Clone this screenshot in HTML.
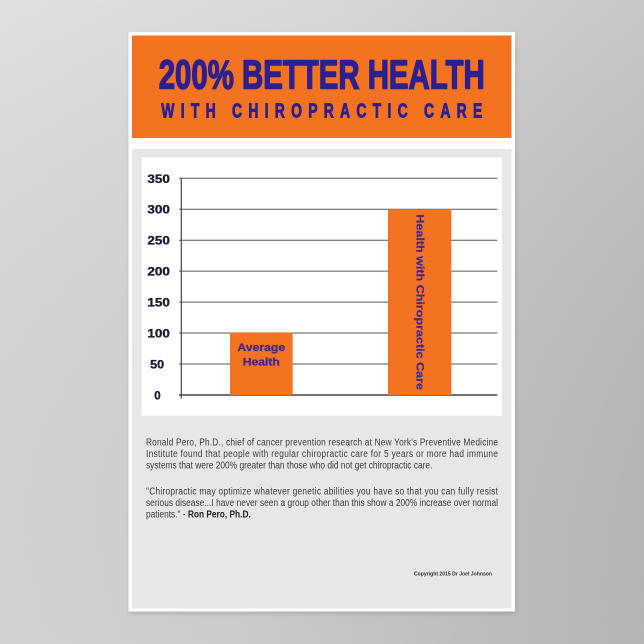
<!DOCTYPE html>
<html>
<head>
<meta charset="utf-8">
<style>
  html,body{margin:0;padding:0;width:644px;height:644px;overflow:hidden;}
  body{background:linear-gradient(100deg,#dcdcdc 0%,#d2d2d2 45%,#c3c2c1 80%,#bcbab9 100%);}
  svg{display:block;}
</style>
</head>
<body>
<svg width="644" height="644" viewBox="0 0 644 644" xmlns="http://www.w3.org/2000/svg">
  <defs>
    <linearGradient id="bgv" x1="0" y1="0" x2="0" y2="1">
      <stop offset="0" stop-color="#ffffff" stop-opacity="0.12"/>
      <stop offset="1" stop-color="#000000" stop-opacity="0.03"/>
    </linearGradient>
    <filter id="sh" x="-10%" y="-10%" width="120%" height="120%">
      <feGaussianBlur stdDeviation="2"/>
    </filter>
  </defs>
  <rect x="0" y="0" width="644" height="644" fill="url(#bgv)"/>

  <!-- poster shadow -->
  <rect x="129" y="34" width="387" height="580" fill="#000" opacity="0.12" filter="url(#sh)"/>
  <!-- white frame -->
  <rect x="128.5" y="32" width="386.5" height="579.5" fill="#ffffff"/>
  <!-- orange header -->
  <rect x="132" y="35.5" width="379.5" height="102.5" fill="#f47321"/>
  <!-- gray panel -->
  <rect x="132" y="149" width="379.5" height="459.5" fill="#e6e7e9"/>
  <!-- chart white box -->
  <rect x="141.7" y="157.3" width="360.3" height="258.3" fill="#ffffff"/>

  <!-- title -->
  <text x="158.7" y="88.7" textLength="326" lengthAdjust="spacingAndGlyphs"
        font-family="'Liberation Sans Narrow','Liberation Sans',sans-serif" font-weight="bold"
        font-size="40.5" fill="#2e1f8f" stroke="#2e1f8f" stroke-width="1.5" stroke-linejoin="round">200% BETTER HEALTH</text>
  <text transform="translate(161.3,117.3) scale(0.68,1)" x="0" y="0" textLength="472" lengthAdjust="spacing"
        font-family="'Liberation Sans Narrow','Liberation Sans',sans-serif" font-weight="bold"
        font-size="20.5" fill="#2e1f8f" stroke="#2e1f8f" stroke-width="0.9">WITH CHIROPRACTIC CARE</text>

  <!-- gridlines -->
  <g stroke="#5a5a5a" stroke-width="1">
    <line x1="179" y1="178.3" x2="497.3" y2="178.3"/>
    <line x1="179" y1="209.25" x2="497.3" y2="209.25"/>
    <line x1="179" y1="240.2" x2="497.3" y2="240.2"/>
    <line x1="179" y1="271.15" x2="497.3" y2="271.15"/>
    <line x1="179" y1="302.1" x2="497.3" y2="302.1"/>
    <line x1="179" y1="333.05" x2="497.3" y2="333.05"/>
    <line x1="179" y1="364" x2="497.3" y2="364"/>
  </g>
  <line x1="179" y1="395" x2="497.3" y2="395" stroke="#444" stroke-width="1.4"/>
  <line x1="181.3" y1="178.3" x2="181.3" y2="398.5" stroke="#444" stroke-width="1.2"/>

  <!-- bars -->
  <rect x="230" y="332.7" width="62.7" height="62.3" fill="#f47321"/>
  <rect x="388" y="209.3" width="63.3" height="185.7" fill="#f47321"/>

  <!-- tick labels -->
  <g font-family="'Liberation Sans',sans-serif" font-weight="bold" font-size="11.5" fill="#1c1c38" text-anchor="middle" stroke="#1c1c38" stroke-width="0.35">
    <text x="158.6" y="182.8" textLength="22.5" lengthAdjust="spacingAndGlyphs">350</text>
    <text x="158.6" y="213.7" textLength="22.5" lengthAdjust="spacingAndGlyphs">300</text>
    <text x="158.6" y="244.7" textLength="22.5" lengthAdjust="spacingAndGlyphs">250</text>
    <text x="158.6" y="275.6" textLength="22.5" lengthAdjust="spacingAndGlyphs">200</text>
    <text x="158.6" y="306.6" textLength="22.5" lengthAdjust="spacingAndGlyphs">150</text>
    <text x="158.6" y="337.5" textLength="22.5" lengthAdjust="spacingAndGlyphs">100</text>
    <text x="157.2" y="368.5" textLength="14" lengthAdjust="spacingAndGlyphs">50</text>
    <text x="157.5" y="399.5">0</text>
  </g>

  <!-- bar labels -->
  <g font-family="'Liberation Sans',sans-serif" font-weight="bold" font-size="11" fill="#3f2a8a">
    <text x="261.3" y="351" text-anchor="middle" textLength="47.7" lengthAdjust="spacingAndGlyphs" stroke="#3f2a8a" stroke-width="0.3">Average</text>
    <text x="261.3" y="365.7" text-anchor="middle" textLength="37" lengthAdjust="spacingAndGlyphs" stroke="#3f2a8a" stroke-width="0.3">Health</text>
    <text transform="translate(416.3,214.3) rotate(90)" x="0" y="0" textLength="175.7" lengthAdjust="spacingAndGlyphs" stroke="#3f2a8a" stroke-width="0.2">Health with Chiropractic Care</text>
  </g>

  <!-- paragraph text -->
  <g font-family="'Liberation Sans Narrow','Liberation Sans',sans-serif" font-size="10.4" fill="#3a3a3a">
    <text transform="translate(146,445.5) scale(0.8,1)" textLength="440" lengthAdjust="spacing">Ronald Pero, Ph.D., chief of cancer prevention research at New York's Preventive Medicine</text>
    <text transform="translate(146,457) scale(0.8,1)" textLength="440" lengthAdjust="spacing">Institute found that people with regular chiropractic care for 5 years or more had immune</text>
    <text transform="translate(146,468.5) scale(0.8,1)" textLength="358" lengthAdjust="spacingAndGlyphs">systems that were 200% greater than those who did not get chiropractic care.</text>
    <text transform="translate(146,494.5) scale(0.8,1)" textLength="440" lengthAdjust="spacing">"Chiropractic may optimize whatever genetic abilities you have so that you can fully resist</text>
    <text transform="translate(146,506) scale(0.8,1)" textLength="440" lengthAdjust="spacing">serious disease...I have never seen a group other than this show a 200% increase over normal</text>
    <text transform="translate(146,517.5) scale(0.8,1)" textLength="131" lengthAdjust="spacingAndGlyphs">patients."  - <tspan font-weight="bold" fill="#222">Ron Pero, Ph.D.</tspan></text>
  </g>

  <!-- copyright -->
  <text x="414" y="575.5" textLength="78" lengthAdjust="spacingAndGlyphs"
        font-family="'Liberation Sans Narrow','Liberation Sans',sans-serif" font-weight="bold"
        font-size="5.8" fill="#333">Copyright 2015 Dr Joel Johnson</text>
</svg>
</body>
</html>
